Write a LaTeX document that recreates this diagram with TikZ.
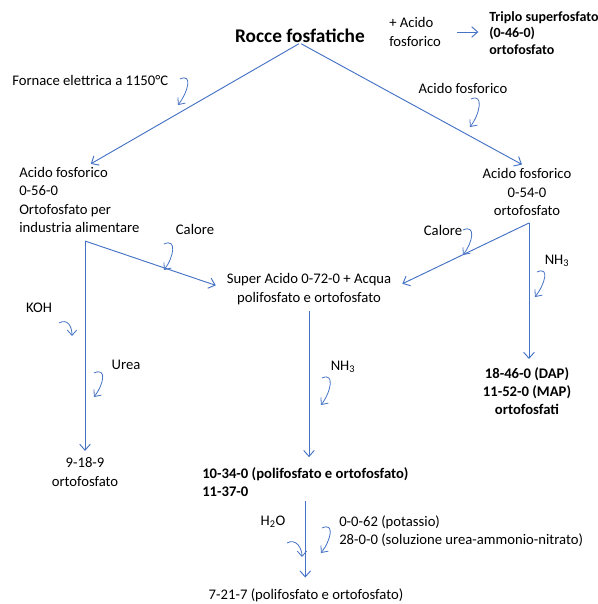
\documentclass[tikz,border=0pt]{standalone}
\usepackage{fontspec}
\setmainfont{Carlito}
\usepackage{tikz}
\usetikzlibrary{arrows.meta}
\usepackage{xcolor}
\definecolor{blu}{HTML}{4472C4}
\newcommand{\testo}{\fontsize{11}{13.7}\selectfont}

\begin{document}
\begin{tikzpicture}[x=0.75pt,y=-0.75pt]
\tikzstyle{every node}=[font=\testo,inner sep=0pt]
\tikzstyle{freccia}=[blu,line width=0.7pt,-{Straight Barb[length=4.5pt,width=8pt]}]
\tikzstyle{curva}=[blu,line width=0.6pt,-{Straight Barb[length=4pt,width=7pt]}]
\tikzstyle{grassetto}=[font=\testo\bfseries]
\useasboundingbox (0,0) rectangle (598,604);
% prodotti
\node (rocce) at (300,36) {\fontsize{14.5}{17}\selectfont\bfseries Rocce fosfatiche};
\node (piu) [anchor=west,align=left] at (389,32) {+ Acido\\fosforico};
\node (triplo) [anchor=west,align=left,font=\fontsize{10.5}{12.4}\selectfont\bfseries] at (489,33) {Triplo superfosfato\\(0-46-0)\\ortofosfato};
\node (acL) [anchor=west,align=left] at (19,200) {Acido fosforico\\0-56-0\\Ortofosfato per\\industria alimentare};
\node (acR) [align=center] at (527,192) {Acido fosforico\\0-54-0\\ortofosfato};
\node (super) [align=center] at (309,289) {Super Acido 0-72-0 + Acqua\\polifosfato e ortofosfato};
\node (dap) [grassetto,align=center] at (527,391) {18-46-0 (DAP)\\11-52-0 (MAP)\\ortofosfati};
\node (nove) [align=center] at (85,472) {9-18-9\\ortofosfato};
\node (dieci) [grassetto,anchor=west,align=left] at (202,482) {10-34-0 (polifosfato e ortofosfato)\\11-37-0};
\node (sette) at (306,595) {7-21-7 (polifosfato e ortofosfato)};
\node (potassio) [anchor=west,align=left] at (339,531) {0-0-62 (potassio)\\28-0-0 (soluzione urea-ammonio-nitrato)};
% reagenti
\node (fornace) [anchor=west] at (12,80) {Fornace elettrica a 1150°C};
\node (acfos) at (463,88) {Acido fosforico};
\node (caloreL) at (195,229) {Calore};
\node (caloreR) at (443,230) {Calore};
\node (koh) at (39,308) {KOH};
\node (urea) at (126,365) {Urea};
\node (nhR) at (557,261) {NH\textsubscript{3}};
\node (nhC) at (343,367) {NH\textsubscript{3}};
\node (acqua) at (273,522) {H\textsubscript{2}O};
\coordinate (kL) at (85,241);
\coordinate (kR) at (529,223);
% frecce
\draw[freccia,shorten <=1pt,shorten >=5pt] (rocce.south) -- (acL.north -| kL);
\draw[freccia,shorten <=1pt,shorten >=6pt] (rocce.south) -- (acR.north -| kR);
\draw[freccia,shorten <=12pt,shorten >=8pt] (piu.east) -- (triplo.west |- piu.east);
\draw[freccia,shorten >=5pt] (kL) -- (nove.north -| kL);
\draw[freccia,shorten >=8.5pt] (kL) -- (super.west);
\draw[freccia,shorten >=9pt] (kR) -- (super.east);
\draw[freccia,shorten >=6pt] (kR) -- (dap.north -| kR);
\draw[freccia,shorten <=5pt,shorten >=7.5pt] (super.south) -- (super.south |- dieci.north);
\draw[freccia,shorten <=3pt,shorten >=8pt] (dieci.south) -- (dieci.south |- sette.north);
% frecce curve
\draw[curva] (180,79) .. controls +(13,-6) and +(10,-13) .. +(-2,26);
\draw[curva] (471,99) .. controls +(13,-6) and +(10,-13) .. +(-1,28);
\draw[curva] (164,244) .. controls +(13,-6) and +(10,-13) .. +(0,26);
\draw[curva] (59,323) .. controls +(9,-5) and +(0,-9) .. +(13,13);
\draw[curva] (94,373) .. controls +(13,-6) and +(10,-13) .. +(0,24);
\draw[curva] (463,230) .. controls +(13,-6) and +(10,-13) .. +(0,25);
\draw[curva] (537,272) .. controls +(13,-6) and +(10,-13) .. +(-2,25);
\draw[curva] (322,378) .. controls +(13,-6) and +(10,-13) .. +(-1,27);
\draw[curva] (287,543) .. controls +(9,-5) and +(0,-9) .. +(15,14);
\draw[curva] (322,528) .. controls +(13,-6) and +(10,-13) .. +(-1,25);
\end{tikzpicture}
\end{document}
